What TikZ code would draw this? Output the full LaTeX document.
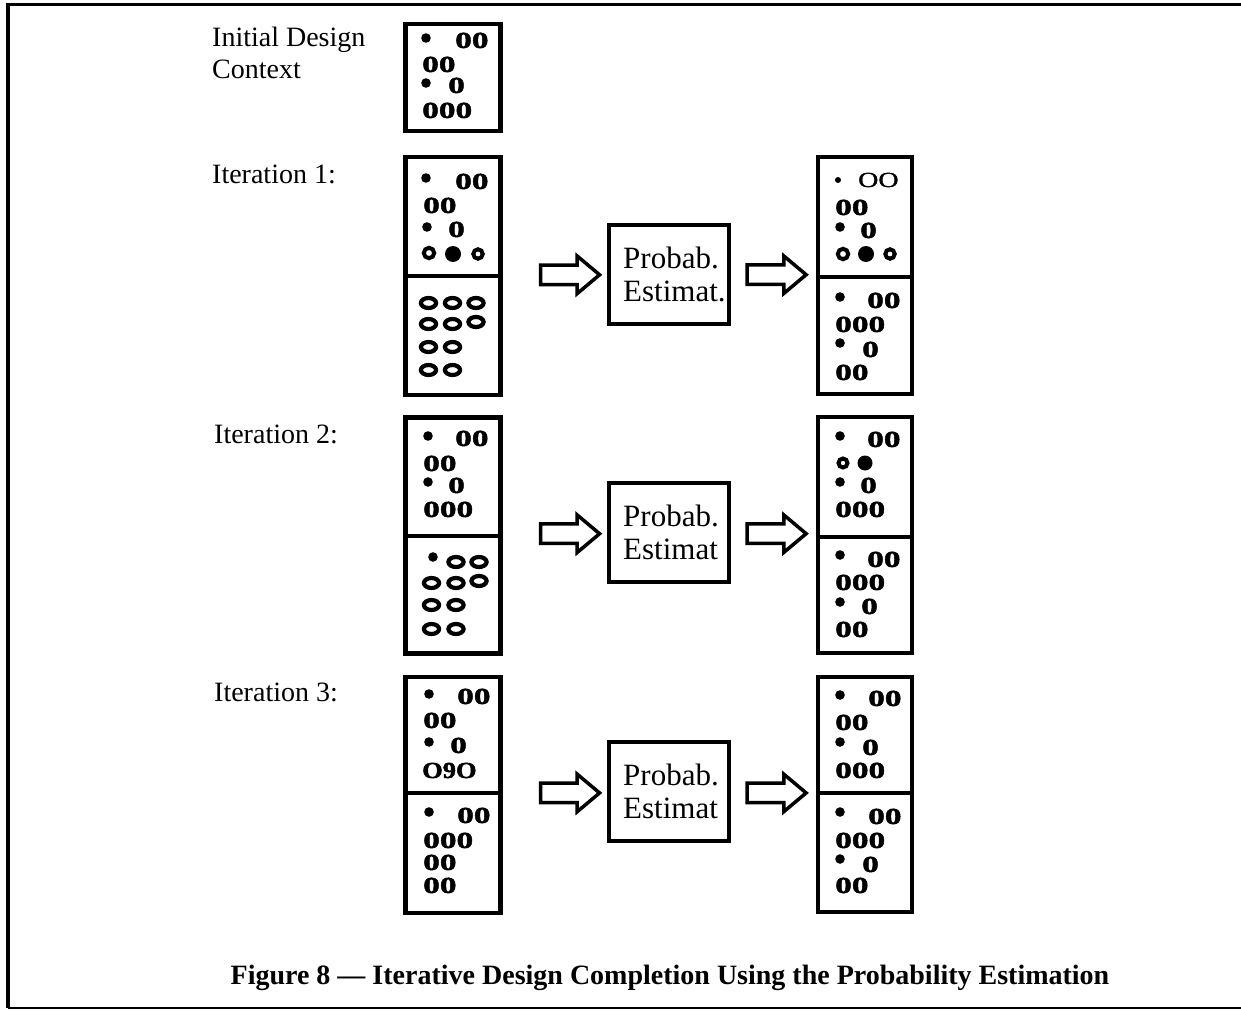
\documentclass[tikz,border=0pt]{standalone}
\usepackage{fontspec}
\setmainfont{Liberation Serif}
% widened, heavier faces for the cell symbols
\newfontfamily\zerofont{Liberation Serif}[FakeStretch=1.45, BoldFeatures={FakeBold=2}]
\newfontfamily\ringfont{Liberation Serif}[FakeStretch=1.3, FakeBold=1.5]
\newfontfamily\mixfont{Liberation Serif}[FakeStretch=1.15, BoldFeatures={FakeBold=2}]
\usetikzlibrary{shapes.arrows,calc}

\newcounter{glyph}
% bold symbol row, placed by its baseline
\newcommand\zz[3]{\stepcounter{glyph}\node[zeros] (g\arabic{glyph}) at (#1,#2) {#3};}
\newcommand\dotat[3][4.8]{\fill (#2,#3) circle (#1pt);}
\newcommand\ringat[3][5.5]{\draw[ring] (#2,#3) circle (#1pt);}
\newcommand\ovalat[2]{\draw[oval] (#1,#2) ellipse [x radius=7.6pt, y radius=5pt];}

\tikzset{
  zeros/.style={anchor=base west, inner sep=0pt, font=\zerofont\bfseries\fontsize{23}{26}\selectfont},
  lbl/.style={anchor=base west, inner sep=0pt, font=\fontsize{28}{32}\selectfont},
  cellbox/.style={draw, line width=4.5pt, inner sep=0pt},
  estbox/.style={draw, line width=4pt, minimum width=120pt, minimum height=99pt, inner sep=0pt},
  esttext/.style={anchor=west, align=left, inner sep=0pt, font=\fontsize{31}{33}\selectfont},
  divider/.style={line width=4pt},
  ring/.style={line width=4pt},
  oval/.style={line width=4.2pt},
  blockarrow/.style={single arrow, draw, line width=3.5pt, minimum height=59pt,
    single arrow head extend=9pt, single arrow tip angle=80, inner xsep=0pt,
    inner ysep=8pt},
}

\begin{document}
\begin{tikzpicture}[x=1pt,y=-1pt]
\useasboundingbox (0,0) rectangle (1241,1011);

% page frame
\draw[line width=3.5pt] (8,1008) -- (8,4.5) -- (1241,4.5);
\draw[line width=2pt] (8,1008) -- (1241,1008);

% row labels
\node[lbl] (initA) at (212,47) {Initial Design};
\node[lbl] (initB) at (212,79) {Context};
\node[lbl] (it1) at (212,184) {Iteration 1:};
\node[lbl] (it2) at (214,443) {Iteration 2:};
\node[lbl] (it3) at (214,701) {Iteration 3:};

% design boxes
\node[cellbox, minimum width=95pt, minimum height=107pt] (I0) at (453,77.5) {};
\node[cellbox, minimum width=95pt, minimum height=238pt] (L1) at (453,276) {};
\node[cellbox, minimum width=95pt, minimum height=236pt] (L2) at (453,535.5) {};
\node[cellbox, minimum width=95pt, minimum height=236pt] (L3) at (453,795) {};
\node[cellbox, minimum width=94pt, minimum height=237pt] (R1) at (865,275.5) {};
\node[cellbox, minimum width=94pt, minimum height=236pt] (R2) at (865,535) {};
\node[cellbox, minimum width=94pt, minimum height=235pt] (R3) at (865,794.5) {};

\draw[divider] (L1.west |- 0,276) -- (L1.east |- 0,276);
\draw[divider] (R1.west |- 0,277) -- (R1.east |- 0,277);
\draw[divider] (L2.west |- 0,536) -- (L2.east |- 0,536);
\draw[divider] (R2.west |- 0,537) -- (R2.east |- 0,537);
\draw[divider] (L3.west |- 0,793) -- (L3.east |- 0,793);
\draw[divider] (R3.west |- 0,793) -- (R3.east |- 0,793);

% estimation boxes
\node[estbox] (P1) at (669,274) {};
\node[estbox] (P2) at (669,532.5) {};
\node[estbox] (P3) at (669,791.5) {};
\node[esttext] (P1t) at ([xshift=16pt]P1.west) {Probab.\\Estimat.};
\node[esttext] (P2t) at ([xshift=16pt]P2.west) {Probab.\\Estimat};
\node[esttext] (P3t) at ([xshift=16pt]P3.west) {Probab.\\Estimat};

% block arrows
\node[blockarrow] (a1) at ($(L1.east)!0.59!(P1.west)$) {};
\node[blockarrow] (b1) at ($(P1.east)!0.47!(R1.west)$) {};
\node[blockarrow] (a2) at ($(L2.east)!0.59!(P2.west)$) {};
\node[blockarrow] (b2) at ($(P2.east)!0.47!(R2.west)$) {};
\node[blockarrow] (a3) at ($(L3.east)!0.59!(P3.west)$) {};
\node[blockarrow] (b3) at ($(P3.east)!0.47!(R3.west)$) {};

% initial context
\dotat{426}{38} \zz{455}{48}{00}
\zz{422}{72}{00}
\dotat{426}{83} \zz{448}{93}{0}
\zz{422}{118}{000}

% iteration 1, left
\dotat{426}{178} \zz{455}{189}{00}
\zz{423}{213}{00}
\dotat{427}{227} \zz{448}{237}{0}
\ringat[5.2]{429}{253} \dotat[8]{453}{254} \ringat[4.7]{478}{254}
\ovalat{428.5}{303} \ovalat{452.5}{303} \ovalat{476}{303}
\ovalat{428.5}{324} \ovalat{452.5}{324} \ovalat{476}{322}
\ovalat{428.5}{347} \ovalat{452.5}{347}
\ovalat{428.5}{370} \ovalat{452.5}{370}

% iteration 1, right
\dotat[3]{838}{180}
\stepcounter{glyph}\node[zeros, font=\ringfont\fontsize{21.5}{25}\selectfont] (g\arabic{glyph}) at (858,187) {OO};
\zz{835}{215}{00}
\dotat{840}{227} \zz{860}{238}{0}
\ringat[5.2]{843}{254} \dotat[8]{866}{254} \ringat[4.7]{890}{254}
\dotat{840}{297} \zz{867}{308}{00}
\zz{835}{332}{000}
\dotat{840}{343} \zz{862}{357}{0}
\zz{835}{380}{00}

% iteration 2, left
\dotat{428}{436} \zz{455}{446}{00}
\zz{423}{471}{00}
\dotat{428}{482} \zz{448}{493}{0}
\zz{423}{517}{000}
\dotat{433}{557} \ovalat{456}{562} \ovalat{479}{562}
\ovalat{431.5}{583} \ovalat{456}{583} \ovalat{479}{581}
\ovalat{431.5}{605} \ovalat{456}{605}
\ovalat{431.5}{629} \ovalat{456}{629}

% iteration 2, right
\dotat{840}{436} \zz{867}{447}{00}
\ringat[4.5]{843}{463} \dotat[7.5]{865}{463}
\dotat{840}{482} \zz{860}{493}{0}
\zz{835}{517}{000}
\dotat{840}{555} \zz{867}{567}{00}
\zz{835}{590}{000}
\dotat{840}{602} \zz{861}{614}{0}
\zz{835}{637}{00}

% iteration 3, left
\dotat{429}{694} \zz{457}{704}{00}
\zz{423}{728}{00}
\dotat{429}{742} \zz{450}{753}{0}
\stepcounter{glyph}\node[zeros, font=\mixfont\bfseries\fontsize{23}{26}\selectfont] (g\arabic{glyph}) at (422,778) {O9O};
\dotat{429}{812} \zz{457}{823}{00}
\zz{423}{848}{000}
\zz{423}{870}{00}
\zz{423}{893}{00}

% iteration 3, right
\dotat{840}{695} \zz{868}{706}{00}
\zz{835}{730}{00}
\dotat{840}{742} \zz{862}{755}{0}
\zz{835}{778}{000}
\dotat{840}{812} \zz{868}{824}{00}
\zz{835}{848}{000}
\dotat{840}{859} \zz{862}{872}{0}
\zz{835}{893}{00}

% caption
\node[anchor=base, inner sep=0pt, font=\bfseries\fontsize{28}{32}\selectfont] (cap) at (670,984)
  {Figure 8 — Iterative Design Completion Using the Probability Estimation};
\end{tikzpicture}
\end{document}
